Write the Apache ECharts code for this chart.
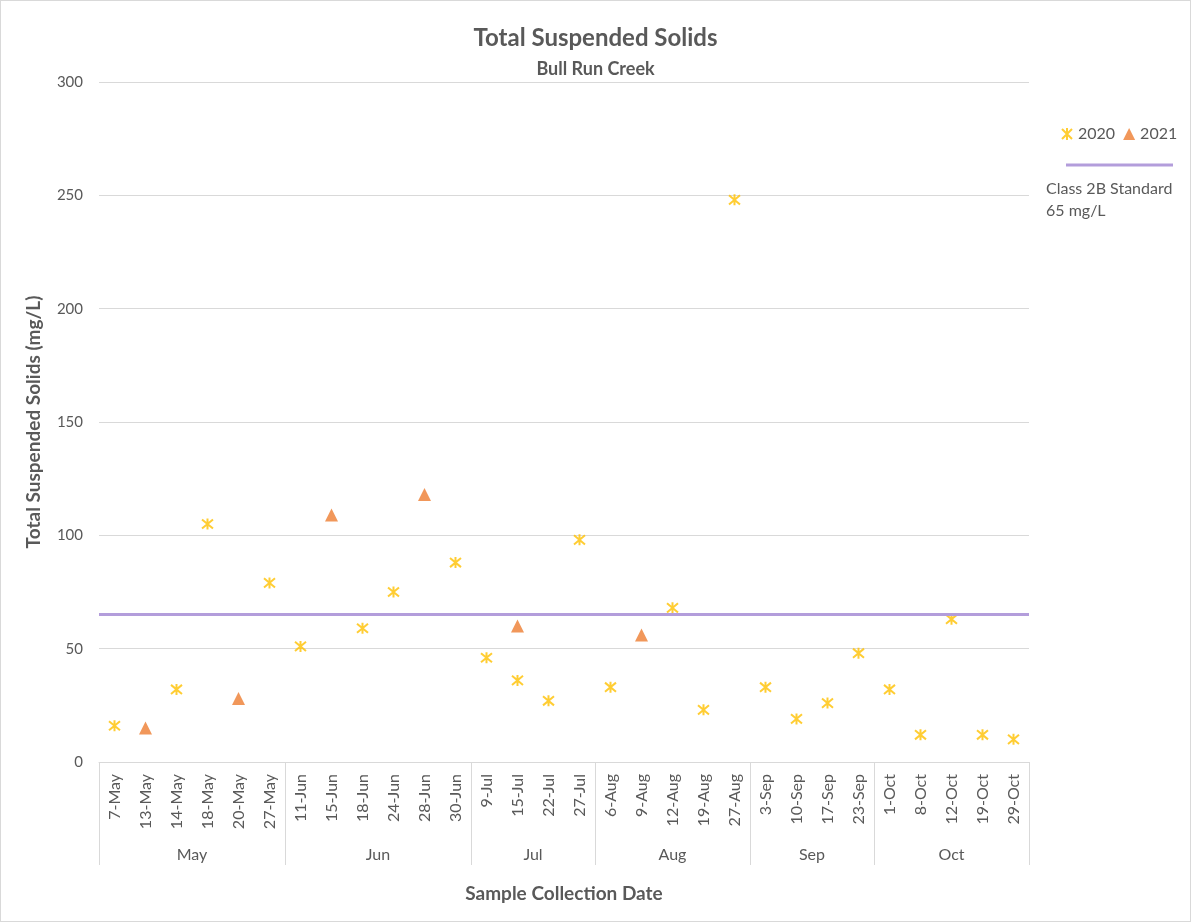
<!DOCTYPE html>
<html>
<head>
<meta charset="utf-8">
<title>Total Suspended Solids - Bull Run Creek</title>
<script src="https://cdn.jsdelivr.net/npm/echarts@6/dist/echarts.min.js"></script>
<style>
  html, body { margin: 0; padding: 0; background: #fff; }
  #chart {
    width: 1191px;
    height: 922px;
    box-sizing: border-box;
    border: 1px solid #d9d9d9;
  }
</style>
</head>
<body>
<div id="chart"></div>
<script>
// sample dates (category axis), grouped by month
const dates = [
  '7-May', '13-May', '14-May', '18-May', '20-May', '27-May',
  '11-Jun', '15-Jun', '18-Jun', '24-Jun', '28-Jun', '30-Jun',
  '9-Jul', '15-Jul', '22-Jul', '27-Jul',
  '6-Aug', '9-Aug', '12-Aug', '19-Aug', '27-Aug',
  '3-Sep', '10-Sep', '17-Sep', '23-Sep',
  '1-Oct', '8-Oct', '12-Oct', '19-Oct', '29-Oct'
];
const months = ['May', 'Jun', 'Jul', 'Aug', 'Sep', 'Oct'];
const monthCounts = [6, 6, 4, 5, 4, 5];

// TSS in mg/L, null where no sample that year
const tss2020 = [
  16, null, 32, 105, null, 79,
  51, null, 59, 75, null, 88,
  46, 36, 27, 98,
  33, null, 68, 23, 248,
  33, 19, 26, 48,
  32, 12, 63, 12, 10
];
const tss2021 = [
  null, 15, null, null, 28, null,
  null, 109, null, null, 118, null,
  null, 60, null, null,
  null, 56, null, null, null,
  null, null, null, null,
  null, null, null, null, null
];
const standard = 65; // Class 2B standard, mg/L
const yTicks = [0, 50, 100, 150, 200, 250, 300];

const YELLOW = '#FFC000';
const ORANGE = '#ED7D31';
const PURPLE = '#B39DDB';
const TEXT = '#595959';
const GRID = '#d9d9d9';
const FONT = 'Lato, "Open Sans", sans-serif';
const ASTERISK = 'path://M0,0L10,10M10,0L0,10M5,-1L5,11';

// month group boundaries / centres on a 0..n value axis
const bounds = [0];
monthCounts.forEach(c => bounds.push(bounds[bounds.length - 1] + c));
const centers = months.map((m, i) => (bounds[i] + bounds[i + 1]) / 2);

const chart = echarts.init(document.getElementById('chart'));

const option = {
  animation: false,
  textStyle: { fontFamily: FONT },
  title: [
    {
      text: 'Total Suspended Solids',
      left: 'center',
      top: 20,
      textStyle: { fontFamily: FONT, fontSize: 24, fontWeight: 'bold', color: TEXT }
    },
    {
      text: 'Bull Run Creek',
      left: 'center',
      top: 54,
      textStyle: { fontFamily: FONT, fontSize: 18, fontWeight: 'bold', color: TEXT }
    }
  ],
  legend: {
    left: 1055,
    top: 120,
    itemWidth: 12,
    itemHeight: 12,
    itemGap: 8,
    textStyle: { fontFamily: FONT, fontSize: 16, color: TEXT },
    data: [
      { name: '2020', icon: ASTERISK, itemStyle: { color: 'transparent', borderColor: YELLOW, borderWidth: 2 } },
      { name: '2021', icon: 'triangle', itemStyle: { color: ORANGE } }
    ]
  },
  grid: { left: 98, right: 161, top: 81, bottom: 159 },
  xAxis: [
    {
      type: 'category',
      data: dates,
      boundaryGap: true,
      axisLine: { lineStyle: { color: GRID } },
      axisTick: { show: false },
      axisLabel: { rotate: 90, fontSize: 16, color: TEXT, margin: 12, interval: 0, fontFamily: FONT }
    },
    {
      type: 'value',
      position: 'bottom',
      min: 0,
      max: dates.length,
      axisLine: { show: false },
      splitLine: { show: false },
      axisTick: {
        customValues: bounds,
        length: 103,
        lineStyle: { color: GRID }
      },
      axisLabel: {
        customValues: centers,
        margin: 85,
        fontSize: 16,
        color: TEXT,
        fontFamily: FONT,
        formatter: v => months[centers.indexOf(v)]
      },
      name: 'Sample Collection Date',
      nameLocation: 'middle',
      nameGap: 122,
      nameTextStyle: { fontSize: 19, fontWeight: 'bold', color: TEXT, fontFamily: FONT }
    }
  ],
  yAxis: {
    type: 'value',
    min: yTicks[0],
    max: yTicks[yTicks.length - 1],
    interval: yTicks[1] - yTicks[0],
    axisLine: { show: false },
    axisTick: { show: false },
    axisLabel: { fontSize: 15, color: TEXT, margin: 16, fontFamily: FONT },
    splitLine: { lineStyle: { color: GRID } },
    name: 'Total Suspended Solids (mg/L)',
    nameLocation: 'middle',
    nameGap: 56,
    nameTextStyle: { fontSize: 19, fontWeight: 'bold', color: TEXT, fontFamily: FONT }
  },
  series: [
    {
      name: '2020',
      type: 'scatter',
      xAxisIndex: 0,
      data: tss2020,
      symbol: ASTERISK,
      symbolSize: 11,
      itemStyle: { color: 'transparent', borderColor: YELLOW, borderWidth: 2 },
      z: 3,
      markLine: {
        silent: true,
        symbol: 'none',
        label: { show: false },
        lineStyle: { color: PURPLE, width: 3, type: 'solid' },
        data: [{ yAxis: standard }]
      }
    },
    {
      name: '2021',
      type: 'scatter',
      xAxisIndex: 0,
      data: tss2021,
      symbol: 'triangle',
      symbolSize: 13,
      itemStyle: { color: ORANGE },
      z: 4
    }
  ],
  graphic: [
    {
      type: 'line',
      shape: { x1: 1065, y1: 164, x2: 1172, y2: 164 },
      style: { stroke: PURPLE, lineWidth: 3 }
    },
    {
      type: 'text',
      left: 1045,
      top: 177,
      style: {
        text: 'Class 2B Standard\n' + standard + ' mg/L',
        fontSize: 16,
        lineHeight: 22,
        fill: TEXT,
        fontFamily: FONT
      }
    }
  ]
};

chart.setOption(option);
</script>
</body>
</html>
